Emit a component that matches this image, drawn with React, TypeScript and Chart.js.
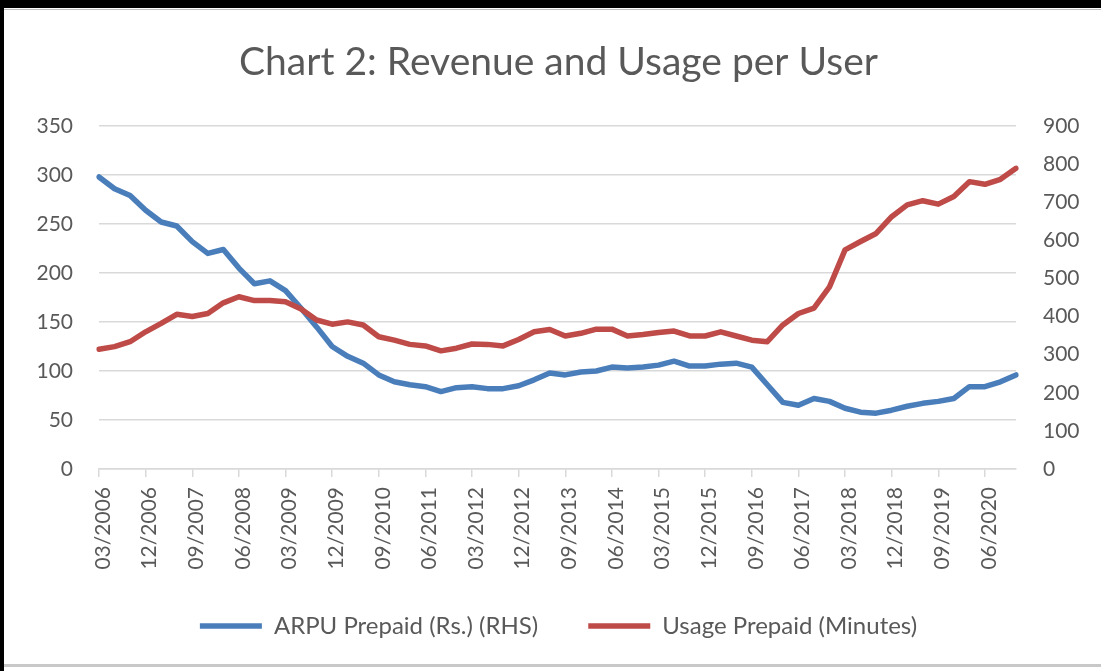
import React, { useEffect, useRef } from "react";
import { Chart, registerables } from "chart.js";

Chart.register(...registerables);

const quarters = [
  "03/2006", "06/2006", "09/2006", "12/2006",
  "03/2007", "06/2007", "09/2007", "12/2007",
  "03/2008", "06/2008", "09/2008", "12/2008",
  "03/2009", "06/2009", "09/2009", "12/2009",
  "03/2010", "06/2010", "09/2010", "12/2010",
  "03/2011", "06/2011", "09/2011", "12/2011",
  "03/2012", "06/2012", "09/2012", "12/2012",
  "03/2013", "06/2013", "09/2013", "12/2013",
  "03/2014", "06/2014", "09/2014", "12/2014",
  "03/2015", "06/2015", "09/2015", "12/2015",
  "03/2016", "06/2016", "09/2016", "12/2016",
  "03/2017", "06/2017", "09/2017", "12/2017",
  "03/2018", "06/2018", "09/2018", "12/2018",
  "03/2019", "06/2019", "09/2019", "12/2019",
  "03/2020", "06/2020", "09/2020", "12/2020",
];

// ARPU Prepaid (Rs.) — plotted against the left axis
const arpuPrepaid = [
  298, 286, 279, 264, 252, 248, 232, 220, 224, 205,
  189, 192, 182, 164, 145, 125, 115, 108, 96, 89,
  86, 84, 79, 83, 84, 82, 82, 85, 91, 98,
  96, 99, 100, 104, 103, 104, 106, 110, 105, 105,
  107, 108, 104, 86, 68, 65, 72, 69, 62, 58,
  57, 60, 64, 67, 69, 72, 84, 84, 89, 96,
];

// Usage Prepaid (Minutes) — plotted against the right axis
const usagePrepaid = [
  314, 321, 334, 360, 382, 406, 400, 408, 436, 452,
  442, 442, 439, 420, 391, 380, 386, 378, 347, 338,
  327, 323, 310, 317, 328, 327, 323, 340, 360, 366,
  349, 356, 367, 367, 349, 353, 358, 362, 349, 349,
  360, 349, 338, 334, 378, 408, 422, 478, 575, 597,
  618, 662, 693, 704, 695, 715, 754, 747, 760, 789,
];

const seriesNames = ["ARPU Prepaid (Rs.) (RHS)", "Usage Prepaid (Minutes)"];
const titleText = "Chart 2: Revenue and Usage per User";

const BLUE = "#4a7ebb";
const RED = "#be4b48";
const TEXT = "#595959";
const GRID = "#d9d9d9";
const FONT = "Lato, 'Open Sans', sans-serif";

export default function App() {
  const ref = useRef<HTMLCanvasElement>(null);

  useEffect(() => {
    if (!ref.current) return;
    const chart = new Chart(ref.current, {
      type: "line",
      data: {
        labels: quarters,
        datasets: [
          {
            label: seriesNames[0],
            data: arpuPrepaid,
            yAxisID: "yL",
            borderColor: BLUE,
            backgroundColor: BLUE,
            borderWidth: 5.5,
            pointRadius: 0,
            borderJoinStyle: "round",
            borderCapStyle: "round",
            tension: 0,
            order: 1,
          },
          {
            label: seriesNames[1],
            data: usagePrepaid,
            yAxisID: "yR",
            borderColor: RED,
            backgroundColor: RED,
            borderWidth: 5.5,
            pointRadius: 0,
            borderJoinStyle: "round",
            borderCapStyle: "round",
            tension: 0,
            order: 0,
          },
        ],
      },
      options: {
        responsive: false,
        animation: false,
        devicePixelRatio: 1,
        layout: { padding: { left: 16, right: 0, top: 0, bottom: 23 } },
        plugins: {
          title: {
            display: true,
            text: titleText,
            color: TEXT,
            font: { family: FONT, size: 39, weight: "normal" },
            padding: { top: 39, bottom: 40.2 },
          },
          legend: {
            position: "bottom",
            labels: {
              usePointStyle: true,
              pointStyle: "line",
              pointStyleWidth: 62,
              boxHeight: 6,
              padding: 50,
              color: TEXT,
              font: { family: FONT, size: 24 },
              sort: (a: any, b: any) => a.datasetIndex - b.datasetIndex,
            },
          },
          tooltip: { enabled: false },
        },
        scales: {
          x: {
            grid: {
              display: true,
              drawOnChartArea: false,
              color: GRID,
              lineWidth: 1.5,
              tickLength: 8,
            },
            border: { display: true, color: GRID, width: 1.5 },
            ticks: {
              autoSkip: false,
              maxRotation: 90,
              minRotation: 90,
              padding: 10,
              labelOffset: 4,
              color: TEXT,
              font: { family: FONT, size: 21 },
              callback: (_v: any, i: number) => (i % 3 === 0 ? quarters[i] : null),
            },
            afterFit: (s: any) => {
              s.height = 95;
              s._computeLabelArea = () => undefined;
            },
          },
          yL: {
            position: "left",
            min: 0,
            max: 350,
            ticks: { stepSize: 50, padding: 26, color: TEXT, font: { family: FONT, size: 21 } },
            grid: { color: GRID, lineWidth: 1.5, drawTicks: false },
            border: { display: false },
            afterFit: (s: any) => {
              s.width = 83;
            },
          },
          yR: {
            position: "right",
            min: 0,
            max: 900,
            ticks: { stepSize: 100, padding: 27, color: TEXT, font: { family: FONT, size: 21 } },
            grid: { display: false, drawTicks: false },
            border: { display: false },
            afterFit: (s: any) => {
              s.width = 85;
            },
          },
        },
      },
    } as any);
    return () => chart.destroy();
  }, []);

  return (
    <div
      style={{
        position: "fixed",
        left: 0,
        top: 0,
        width: 1101,
        height: 671,
        background: "#ffffff",
        overflow: "hidden",
      }}
    >
      <canvas ref={ref} width={1101} height={671} style={{ position: "absolute", left: 0, top: 0 }} />
      <div style={{ position: "absolute", left: 0, top: 0, width: 1101, height: 8, background: "#000" }} />
      <div style={{ position: "absolute", left: 0, top: 0, width: 4, height: 671, background: "#000" }} />
      <div style={{ position: "absolute", left: 4, top: 9, width: 1097, height: 1, background: "#bfbfbf" }} />
      <div style={{ position: "absolute", left: 4, top: 664, width: 1097, height: 3, background: "#c8c8c8" }} />
    </div>
  );
}
